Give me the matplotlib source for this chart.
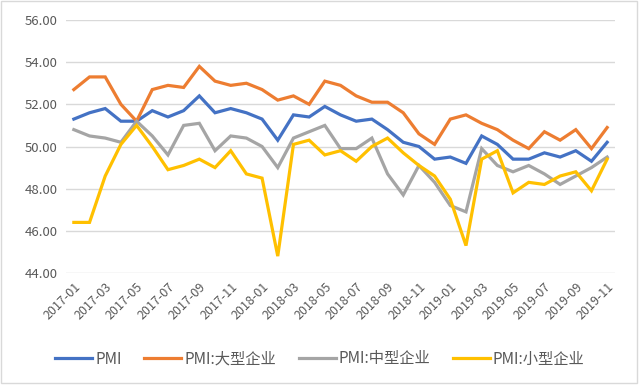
import matplotlib
matplotlib.use("Agg")
import matplotlib.pyplot as plt
import numpy as np

plt.rcParams['font.family'] = ['Noto Sans CJK SC', 'DejaVu Sans']

months = [f"{y}-{m:02d}" for y in (2017, 2018, 2019) for m in range(1, 13)][:35]

pmi = [51.3, 51.6, 51.8, 51.2, 51.2, 51.7, 51.4, 51.7, 52.4, 51.6, 51.8, 51.6,
       51.3, 50.3, 51.5, 51.4, 51.9, 51.5, 51.2, 51.3, 50.8, 50.2, 50.0, 49.4,
       49.5, 49.2, 50.5, 50.1, 49.4, 49.4, 49.7, 49.5, 49.8, 49.3, 50.2]
large = [52.7, 53.3, 53.3, 52.0, 51.2, 52.7, 52.9, 52.8, 53.8, 53.1, 52.9, 53.0,
         52.7, 52.2, 52.4, 52.0, 53.1, 52.9, 52.4, 52.1, 52.1, 51.6, 50.6, 50.1,
         51.3, 51.5, 51.1, 50.8, 50.3, 49.9, 50.7, 50.3, 50.8, 49.9, 50.9]
medium = [50.8, 50.5, 50.4, 50.2, 51.2, 50.5, 49.6, 51.0, 51.1, 49.8, 50.5, 50.4,
          50.0, 49.0, 50.4, 50.7, 51.0, 49.9, 49.9, 50.4, 48.7, 47.7, 49.1, 48.3,
          47.2, 46.9, 49.9, 49.1, 48.8, 49.1, 48.7, 48.2, 48.6, 49.0, 49.5]
small = [46.4, 46.4, 48.6, 50.1, 51.0, 50.0, 48.9, 49.1, 49.4, 49.0, 49.8, 48.7,
         48.5, 44.8, 50.1, 50.3, 49.6, 49.8, 49.3, 50.0, 50.4, 49.7, 49.1, 48.6,
         47.5, 45.3, 49.4, 49.8, 47.8, 48.3, 48.2, 48.6, 48.8, 47.9, 49.4]

series_names = ["PMI", "PMI:大型企业", "PMI:中型企业", "PMI:小型企业"]
colors = ["#4472C4", "#ED7D31", "#A5A5A5", "#FFC000"]

fig = plt.figure(figsize=(6.4, 3.85), dpi=100)
ax = fig.add_axes([66/640, 1-273/385, (615-66)/640, (273-20)/385])

x = np.arange(len(months))
for vals, name, c in zip([pmi, large, medium, small], series_names, colors):
    ax.plot(x, vals, color=c, lw=2.3, label=name, solid_joinstyle='miter')

ax.set_xlim(-0.5, len(months) - 0.5)
ax.set_ylim(44, 56)
ax.set_yticks(np.arange(44, 56.1, 2))
ax.set_yticklabels([f"{v:.2f}" for v in np.arange(44, 56.1, 2)])
ax.grid(axis='y', color='#D9D9D9', lw=1)
ax.set_axisbelow(True)
for s in ax.spines.values():
    s.set_visible(False)
ax.tick_params(axis='both', length=0, colors='#595959', labelsize=9.5)
ax.tick_params(axis='y', pad=6)
ax.set_xticks(x[::2])
ax.set_xticklabels(months[::2], rotation=45, ha='right', rotation_mode='anchor', fontsize=9)
ax.tick_params(axis='x', pad=5)

leg = fig.legend(loc='center', bbox_to_anchor=(0.5, 1-359/385), ncol=4, frameon=False,
                 fontsize=11, handlelength=2.4, columnspacing=1.5, handletextpad=0.2,
                 labelcolor='#595959')

fig.patches.append(plt.Rectangle((0.002, 0.004), 0.993, 0.993, transform=fig.transFigure,
                                 fill=False, edgecolor='#D9D9D9', lw=1))

fig.savefig("out.png", dpi=100)
